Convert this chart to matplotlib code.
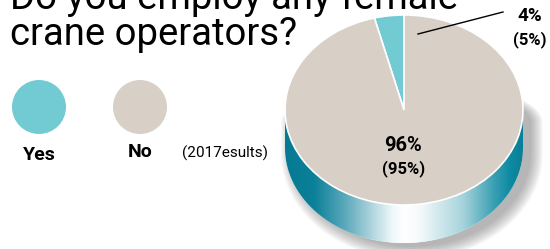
import numpy as np
import matplotlib
matplotlib.use("Agg")
import matplotlib.pyplot as plt
from matplotlib.patches import Circle, Polygon
from matplotlib.colors import LinearSegmentedColormap

# data
categories = ["Yes", "No"]
share_now = [4, 96]
share_2017 = [5, 95]
colors = ["#72cbd3", "#d8cfc7"]
title_lines = ["Do you employ any female", "crane operators?"]
note = "(2017esults)"

W, H = 550, 249
font = ["Roboto", "DejaVu Sans"]

fig = plt.figure(figsize=(W / 100, H / 100), dpi=100)
fig.patch.set_facecolor("white")

# background axes in pixel coords
bg = fig.add_axes([0, 0, 1, 1], zorder=0)
bg.set_xlim(0, W)
bg.set_ylim(H, 0)
bg.axis("off")

bg.text(10, 9, title_lines[0], fontsize=27.5, family=font, color="black", va="baseline", ha="left")
bg.text(10, 45, title_lines[1], fontsize=27.5, family=font, color="black", va="baseline", ha="left")

# legend circles
leg_x = [39, 140]
for i, cat in enumerate(categories):
    bg.add_patch(Circle((leg_x[i], 107), 27, color=colors[i], lw=0))
    bg.text(leg_x[i], 155 if i == 0 else 152, cat, fontsize=14, fontweight="bold",
            family=font, ha="center", va="center")
bg.text(225, 153, note, fontsize=11, family=font, ha="center", va="center")

# pie axes: top ellipse x 285..523, y 15..205, side down to 243
x0, x1, y_top, y_face, y_bot = 285, 523, 15, 205, 243
rx = (x1 - x0) / 2
ry = (y_face - y_top) / 2
depth = (y_bot - y_face) / ry
ax = fig.add_axes([x0 / W, (H - y_bot) / H, (x1 - x0) / W, (y_bot - y_top) / H], zorder=1)

# blurred drop shadow, offset right/down (flattened top so it only shows lower right)
up = np.linspace(0, np.pi, 120)
low = np.linspace(np.pi, 2 * np.pi, 120)
sil = np.concatenate([np.column_stack([np.cos(up), np.sin(up) * 0.4 - 0.1]),
                      np.column_stack([np.cos(low), np.sin(low) - depth])])
cx, cy = 0, -depth / 2
for k in range(10):
    dx, dy = 8 / rx, -4 / ry
    pts = np.column_stack([(sil[:, 0] - cx) * (1 + k * 0.011) + cx + dx,
                           (sil[:, 1] - cy) * (1 + k * 0.012) + cy + dy])
    ax.add_patch(Polygon(pts, closed=True, fc="#555555", ec="none", alpha=0.05,
                         zorder=0, clip_on=False))

# cylinder side with horizontal gradient
side = np.concatenate([np.column_stack([np.cos(low), np.sin(low)]),
                       np.column_stack([np.cos(low[::-1]), np.sin(low[::-1]) - depth])])
side_patch = Polygon(side, closed=True, fc="white", ec="none", zorder=0.5)
ax.add_patch(side_patch)
cmap = LinearSegmentedColormap.from_list(
    "side", [(0, "#067a92"), (0.12, "#0a8099"), (0.25, "#5aa8ba"), (0.45, "#eef7f9"),
             (0.5, "#ffffff"), (0.56, "#f7fbfc"), (0.75, "#a6d3dc"), (0.88, "#3a9fb3"),
             (0.95, "#0b8aa2"), (1, "#0b7f97")])
grad = np.linspace(0, 1, 256).reshape(1, -1)
im = ax.imshow(grad, cmap=cmap, extent=(-1, 1, -1 - depth, 0), aspect="auto", zorder=1)
im.set_clip_path(side_patch)

wedges, _ = ax.pie(share_now, colors=colors, startangle=90, counterclock=True,
                   radius=1, center=(0, 0),
                   wedgeprops=dict(edgecolor="white", linewidth=1.2))
for w in wedges:
    w.set_zorder(2)
ax.set_aspect("auto")
ax.set_xlim(-1, 1)
ax.set_ylim(-1 - depth, 1)
ax.axis("off")

# overlay for labels
top = fig.add_axes([0, 0, 1, 1], zorder=2)
top.set_xlim(0, W)
top.set_ylim(H, 0)
top.axis("off")
top.patch.set_alpha(0)

top.text(403, 145, f"{share_now[1]}%", fontsize=14.5, fontweight="bold", family=font,
         ha="center", va="center")
top.text(404, 169, f"({share_2017[1]}%)", fontsize=12, fontweight="bold", family=font,
         ha="center", va="center")
top.text(530, 16, f"{share_now[0]}%", fontsize=13.5, fontweight="bold", family=font,
         ha="center", va="center")
top.text(530, 40, f"({share_2017[0]}%)", fontsize=12, fontweight="bold", family=font,
         ha="center", va="center")
top.plot([418, 503], [34, 12], color="black", lw=1)

fig.savefig("out.png", dpi=100, facecolor="white")
